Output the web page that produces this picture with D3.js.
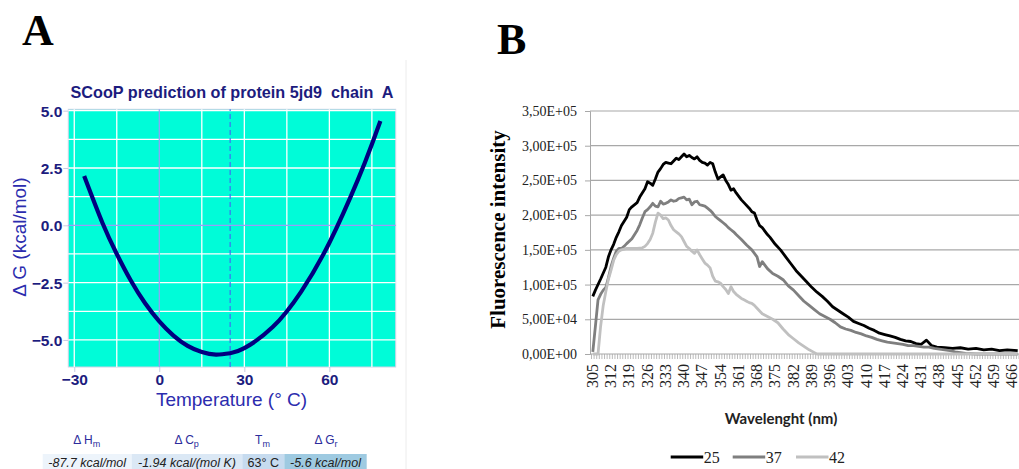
<!DOCTYPE html>
<html>
<head>
<meta charset="utf-8">
<script src="https://cdn.jsdelivr.net/npm/d3@7"></script>
<style>
  body { margin: 0; background: #fff; }
  svg { display: block; }
  text { white-space: pre; }
</style>
</head>
<body>
<svg width="1019" height="469"></svg>
<script>
// Panel A: SCooP stability curve.
var tempC   = [-26.5, -20, -15, -10, -5, 0, 5, 10, 15, 20, 25, 30, 40, 50, 60, 70, 75, 78];
var deltaG  = [2.15, 0.09, -1.25, -2.42, -3.40, -4.19, -4.81, -5.26, -5.53, -5.64, -5.58, -5.36, -4.44, -2.90, -0.76, 1.97, 3.54, 4.55];
var tempTicks = [-30, 0, 30, 60];
var dgTicks = [5.0, 2.5, 0.0, -2.5, -5.0];
var tempGrid = [-30, -15, 15, 30, 45, 60, 75];
var dgGrid = [5, 3.75, 2.5, 1.25, -1.25, -2.5, -3.75, -5];
var refTemp = 25;
var tableHeads = [["\u0394 H", "m"], ["\u0394 C", "p"], ["T", "m"], ["\u0394 G", "r"]];
var tableCells = ["-87.7 kcal/mol", "-1.94 kcal/(mol K)", "63\u00b0 C", "-5.6 kcal/mol"];

// Panel B: fluorescence spectra (thousands), [wavelength, value]
var wavelengths = d3.range(305, 469);
var waveLabels = [305, 312, 319, 326, 333, 340, 347, 354, 361, 368, 375, 382, 389, 396, 403, 410, 417, 424, 431, 438, 445, 452, 459, 466];
var fluoTicks = [0, 50000, 100000, 150000, 200000, 250000, 300000, 350000];
var fluoTickLabels = ["0,00E+00", "5,00E+04", "1,00E+05", "1,50E+05", "2,00E+05", "2,50E+05", "3,00E+05", "3,50E+05"];
var seriesNames = ["25", "37", "42"];
var seriesColors = ["#000000", "#7f7f7f", "#c0c0c0"];

var spec25 = [[305,83],[306,92],[308,108],[310,125],[311,140],[312,150],[313,158],[314,168],[315,176],[316,185],[318,197],[319,208],[320,212],[322,218],[323,226],[325,238],[326,248],[327,246],[328,243],[329,252],[330,262],[331,267],[332,273],[333,276],[334,275],[335,274],[336,278],[337,282],[338,280],[339,284],[340,288],[341,284],[342,286],[343,283],[344,281],[345,284],[346,279],[347,276],[348,275],[349,272],[350,276],[351,274],[352,262],[353,252],[354,255],[355,258],[356,250],[357,244],[358,236],[359,238],[360,232],[362,222],[363,218],[365,210],[366,205],[367,203],[368,193],[369,185],[370,182],[372,172],[373,168],[375,158],[377,150],[379,140],[381,130],[383,120],[385,112],[387,104],[389,96],[391,89],[393,83],[395,76],[397,68],[399,63],[401,58],[403,53],[405,47],[407,44],[409,41],[411,37],[413,34],[415,30],[417,28],[419,26],[421,24],[423,21],[425,19],[427,18],[429,15],[431,14],[433,20],[435,12],[437,10],[440,9],[443,8],[446,9],[449,7],[452,8],[455,6],[458,7],[461,5],[464,6],[468,5]];

var spec37 = [[305,3],[306,40],[307,78],[308,86],[309,92],[310,96],[311,110],[312,126],[313,138],[314,148],[315,152],[316,152],[317,155],[318,159],[320,166],[322,178],[323,186],[324,196],[325,205],[326,208],[327,212],[328,217],[329,213],[330,212],[331,220],[332,216],[333,217],[334,219],[335,222],[336,220],[337,221],[338,224],[339,225],[340,226],[341,222],[342,223],[343,215],[344,219],[345,220],[346,215],[347,214],[348,213],[349,210],[350,207],[351,203],[352,198],[353,195],[354,192],[355,189],[356,186],[357,182],[358,179],[359,176],[360,172],[362,165],[364,157],[366,150],[368,140],[369,126],[370,133],[372,123],[374,116],[376,112],[378,107],[380,98],[382,92],[384,84],[386,76],[388,70],[390,64],[392,58],[394,54],[396,50],[398,45],[400,39],[402,36],[404,34],[406,31],[408,29],[410,26],[412,24],[414,21],[416,19],[418,17],[420,16],[422,15],[424,14],[426,12],[428,12],[430,11],[432,10],[434,10],[436,8],[438,7],[440,6],[442,5],[444,3],[446,2],[448,1],[452,0],[468,0]];

var spec42 = [[305,0],[307,0],[308,40],[309,70],[310,90],[311,108],[312,121],[313,135],[314,143],[315,148],[316,150],[318,152],[320,152],[322,152],[324,153],[325,155],[326,159],[327,165],[328,174],[329,190],[330,203],[331,200],[332,195],[333,196],[334,193],[335,185],[336,179],[337,176],[338,173],[339,169],[340,162],[341,155],[342,152],[343,148],[344,145],[345,150],[346,143],[347,137],[348,131],[349,128],[350,124],[351,112],[352,105],[353,104],[354,102],[355,97],[356,93],[357,87],[358,97],[359,90],[360,86],[361,83],[362,80],[363,78],[364,76],[365,74],[366,73],[367,70],[368,66],[370,58],[372,54],[374,50],[376,45],[378,36],[380,28],[382,22],[384,16],[386,11],[388,6],[390,2],[391,0],[468,0]];

var spectra = [spec25, spec37, spec42];

var svg = d3.select("svg");
var sans = "'Liberation Sans', Arial, sans-serif";
var serif = "'Liberation Serif', 'Times New Roman', serif";

//==========================================================================
// Panel A

var navy = "#1c1c7e";

svg.append("text")
    .attr("x", 22).attr("y", 45)
    .style("font-family", serif).style("font-weight", "bold").style("font-size", "44px")
    .text("A")
;

var xA = d3.scaleLinear().domain([-32.1, 83.4]).range([68.3, 395.7]);
var yA = d3.scaleLinear().domain([-6.18, 5.06]).range([367, 109.3]);

var plotA = svg.append("g");

plotA.append("rect")
    .attr("x", xA.range()[0]).attr("y", yA.range()[1])
    .attr("width", xA.range()[1] - xA.range()[0])
    .attr("height", yA.range()[0] - yA.range()[1])
    .style("fill", "#00fcd8")
    .style("stroke", "#cfd3e6")
;

plotA.selectAll(".vgrid").data(tempGrid).enter()
    .append("line")
    .attr("x1", xA).attr("x2", xA)
    .attr("y1", yA.range()[0]).attr("y2", yA.range()[1])
    .style("stroke", "#ffffff").style("stroke-width", 1.3)
;
plotA.selectAll(".hgrid").data(dgGrid).enter()
    .append("line")
    .attr("x1", xA.range()[0]).attr("x2", xA.range()[1])
    .attr("y1", yA).attr("y2", yA)
    .style("stroke", "#ffffff").style("stroke-width", 1.3)
;

// zero lines and reference temperature
plotA.append("line")
    .attr("x1", xA(0)).attr("x2", xA(0))
    .attr("y1", yA.range()[0]).attr("y2", yA.range()[1])
    .style("stroke", "#9a9cf6").style("stroke-width", 1.2)
;
plotA.append("line")
    .attr("x1", xA.range()[0]).attr("x2", xA.range()[1])
    .attr("y1", yA(0)).attr("y2", yA(0))
    .style("stroke", "#9a9cf6").style("stroke-width", 1.2)
;
plotA.append("line")
    .attr("x1", xA(refTemp)).attr("x2", xA(refTemp))
    .attr("y1", yA.range()[0]).attr("y2", yA.range()[1])
    .style("stroke", "#3f6ef2").style("stroke-width", 1.2)
    .style("stroke-dasharray", "5,3")
;

var curveA = d3.line()
    .x(function(d, i) { return xA(tempC[i]); })
    .y(function(d) { return yA(d); })
    .curve(d3.curveNatural)
;
plotA.append("path")
    .attr("d", curveA(deltaG))
    .style("fill", "none")
    .style("stroke", "#000080")
    .style("stroke-width", 4.2)
    .style("stroke-linecap", "butt")
;

// axes
var xAxisA = plotA.append("g")
    .attr("transform", "translate(0," + yA.range()[0] + ")")
    .call(d3.axisBottom(xA).tickValues(tempTicks).tickSize(5).tickPadding(2).tickFormat(d3.format("d")))
;
var yAxisA = plotA.append("g")
    .attr("transform", "translate(" + xA.range()[0] + ",0)")
    .call(d3.axisLeft(yA).tickValues(dgTicks).tickSize(5).tickPadding(1).tickFormat(d3.format(".1f")))
;
[xAxisA, yAxisA].forEach(function(ax) {
    ax.select(".domain").remove();
    ax.selectAll("line").style("stroke", "#c8cbe0");
    ax.selectAll("text")
        .style("font-family", sans).style("font-weight", "bold")
        .style("font-size", "15.5px").style("fill", navy);
});
xAxisA.selectAll("text").attr("dy", "0.72em");
yAxisA.selectAll("text").attr("dy", "0.36em");

svg.append("text")
    .attr("x", 232).attr("y", 98)
    .attr("text-anchor", "middle")
    .style("font-family", sans).style("font-weight", "bold").style("font-size", "16.2px")
    .style("fill", navy)
    .text("SCooP prediction of protein 5jd9  chain  A")
;

svg.append("text")
    .attr("x", 231.5).attr("y", 406)
    .attr("text-anchor", "middle")
    .style("font-family", sans).style("font-size", "19px")
    .style("fill", "#2c2cae")
    .text("Temperature (\u00b0 C)")
;

svg.append("text")
    .attr("transform", "translate(26,237) rotate(-90)")
    .attr("text-anchor", "middle")
    .style("font-family", sans).style("font-size", "19px")
    .style("fill", "#2c2cae")
    .text("\u0394 G (kcal/mol)")
;

// summary table under the plot
var cellEdges = [42.7, 131.7, 242.3, 284.3, 366.7];
var cellFills = ["#edf4fb", "#dbe8f5", "#c6dbef", "#9ecae1"];

svg.selectAll(".tcell").data(tableCells).enter()
    .append("rect")
    .attr("x", function(d, i) { return cellEdges[i]; })
    .attr("y", 454)
    .attr("width", function(d, i) { return cellEdges[i + 1] - cellEdges[i]; })
    .attr("height", 16)
    .style("fill", function(d, i) { return cellFills[i]; })
;
svg.selectAll(".tcelltext").data(tableCells).enter()
    .append("text")
    .attr("x", function(d, i) { return (cellEdges[i] + cellEdges[i + 1]) / 2; })
    .attr("y", 467)
    .attr("text-anchor", "middle")
    .style("font-family", sans).style("font-size", "12.5px")
    .style("font-style", function(d, i) { return i === 2 ? "normal" : "italic"; })
    .style("fill", "#222")
    .text(function(d) { return d; })
;

var headX = [86.7, 186.7, 262.5, 326];
var heads = svg.selectAll(".thead").data(tableHeads).enter()
    .append("text")
    .attr("x", function(d, i) { return headX[i]; })
    .attr("y", 444)
    .attr("text-anchor", "middle")
    .style("font-family", sans).style("font-size", "12px")
    .style("fill", "#2c2c9c")
;
heads.append("tspan").text(function(d) { return d[0]; });
heads.append("tspan")
    .attr("dy", 3)
    .style("font-size", "9px")
    .text(function(d) { return d[1]; })
;

svg.append("line")
    .attr("x1", 406).attr("x2", 406).attr("y1", 60).attr("y2", 469)
    .style("stroke", "#ececec")
;

//==========================================================================
// Panel B

svg.append("text")
    .attr("x", 497).attr("y", 54)
    .style("font-family", serif).style("font-weight", "bold").style("font-size", "44px")
    .text("B")
;

var xB = d3.scaleBand().domain(wavelengths).range([591.5, 1019]).padding(0);
var yB = d3.scaleLinear().domain([0, 350000]).range([354, 111]);

var plotB = svg.append("g");

plotB.selectAll(".grid").data(fluoTicks.slice(1)).enter()
    .append("line")
    .attr("x1", 590).attr("x2", xB.range()[1])
    .attr("y1", yB).attr("y2", yB)
    .style("stroke", "#a8a8a8").style("stroke-width", 1.2)
;

var yAxisB = plotB.append("g")
    .attr("transform", "translate(590,0)")
    .call(d3.axisLeft(yB).tickValues(fluoTicks).tickSize(5).tickPadding(8)
        .tickFormat(function(d, i) { return fluoTickLabels[i]; }))
;
yAxisB.select(".domain").style("stroke", "#a8a8a8");
yAxisB.selectAll("line").style("stroke", "#a8a8a8");
yAxisB.selectAll("text")
    .style("font-family", serif).style("font-size", "14px").style("fill", "#222")
;

// category tick marks sit between categories
var catEdges = wavelengths.map(function(w) { return xB(w); }).concat([xB.range()[1]]);
plotB.selectAll(".cattick").data(catEdges).enter()
    .append("line")
    .attr("x1", function(d) { return d; }).attr("x2", function(d) { return d; })
    .attr("y1", yB(0)).attr("y2", yB(0) + 5)
    .style("stroke", "#a8a8a8").style("stroke-width", 0.8)
;
plotB.append("line")
    .attr("x1", 590).attr("x2", xB.range()[1])
    .attr("y1", yB(0)).attr("y2", yB(0))
    .style("stroke", "#a8a8a8").style("stroke-width", 1.2)
;

plotB.selectAll(".wlabel").data(waveLabels).enter()
    .append("text")
    .attr("transform", function(d) {
        return "translate(" + (xB(d) + xB.bandwidth() / 2 + 5) + "," + (yB(0) + 10) + ") rotate(-90)";
    })
    .attr("text-anchor", "end")
    .style("font-family", serif).style("font-size", "16px").style("fill", "#222")
    .text(function(d) { return d; })
;

var lineB = d3.line()
    .x(function(d) { return xB(d[0]) + xB.bandwidth() / 2; })
    .y(function(d) { return yB(d[1] * 1000); })
;
plotB.selectAll(".spectrum").data(spectra).enter()
    .append("path")
    .attr("d", lineB)
    .style("fill", "none")
    .style("stroke", function(d, i) { return seriesColors[i]; })
    .style("stroke-width", 2.8)
    .style("stroke-linejoin", "round")
;

svg.append("text")
    .attr("transform", "translate(505,229.5) rotate(-90)")
    .attr("text-anchor", "middle")
    .style("font-family", serif).style("font-weight", "bold").style("font-size", "21px")
    .text("Fluorescence intensity")
;

svg.append("text")
    .attr("x", 781).attr("y", 424)
    .attr("text-anchor", "middle")
    .style("font-family", "Lato, 'Open Sans', sans-serif").style("font-weight", "bold").style("font-size", "15px")
    .style("fill", "#222")
    .text("Wavelenght (nm)")
;

// legend
var legendX = [670.7, 732.7, 796];
var legend = svg.selectAll(".legend").data(seriesNames).enter()
    .append("g")
    .attr("transform", function(d, i) { return "translate(" + legendX[i] + ",457)"; })
;
legend.append("line")
    .attr("x1", 0).attr("x2", 32.5).attr("y1", 0).attr("y2", 0)
    .style("stroke", function(d, i) { return seriesColors[i]; })
    .style("stroke-width", 3)
;
legend.append("text")
    .attr("x", 33).attr("y", 6)
    .style("font-family", serif).style("font-size", "16px").style("fill", "#222")
    .text(function(d) { return d; })
;
</script>
</body>
</html>
